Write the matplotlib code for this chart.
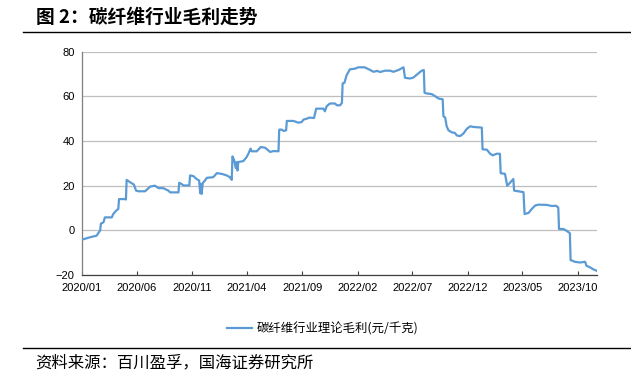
import numpy as np
import matplotlib
matplotlib.use("Agg")
import matplotlib.pyplot as plt
from matplotlib.lines import Line2D

# ---- data (days since 2020-01-01, gross profit 元/千克) ----
day_offsets = [0, 23, 41, 46, 51, 53, 60, 64, 83, 87, 95, 101, 103, 120, 122, 124, 133, 144, 150,
               156, 175, 189, 202, 212, 225, 239, 244, 267, 269, 276, 281, 297, 299, 308, 317, 324,
               327, 329, 331, 334, 340, 345, 363, 373, 386, 400, 409, 414, 416, 421, 425, 428, 430,
               432, 446, 455, 460, 466, 469, 483, 494, 506, 515, 520, 529, 543, 545, 552, 557, 564,
               566, 584, 598, 607, 612, 621, 628, 641, 647, 667, 671, 676, 685, 699, 704, 713, 718,
               720, 725, 731, 740, 754, 763, 781, 796, 805, 816, 823, 837, 851, 860, 874, 888, 892,
               906, 915, 929, 938, 944, 946, 952, 966, 975, 985, 996, 998, 1003, 1007, 1012, 1021,
               1030, 1035, 1044, 1053, 1063, 1072, 1081, 1104, 1106, 1118, 1127, 1134, 1145, 1154,
               1156, 1168, 1174, 1183, 1191, 1193, 1205, 1219, 1222, 1233, 1242, 1251, 1260, 1283,
               1297, 1309, 1315, 1317, 1329, 1338, 1347, 1349, 1361, 1375, 1389, 1393, 1403, 1412,
               1421]
margin = [-4.2, -3.1, -2.4, -1.2, 0.0, 3.0, 3.6, 5.8, 5.8, 7.3, 8.8, 9.6, 14.0, 14.0, 13.8, 22.6,
          21.6, 20.5, 17.8, 17.5, 17.5, 19.6, 20.0, 18.9, 18.9, 17.8, 17.0, 17.0, 21.3, 20.7, 20.1,
          20.1, 24.6, 24.3, 23.0, 22.3, 16.6, 20.8, 16.3, 21.2, 22.3, 23.5, 23.8, 25.6, 25.3, 24.6,
          23.8, 22.6, 33.1, 31.3, 27.9, 30.6, 26.8, 30.6, 31.0, 32.8, 34.3, 36.6, 35.4, 35.4, 37.3,
          37.0, 35.8, 35.1, 35.5, 35.4, 45.1, 45.1, 44.5, 44.8, 49.0, 49.0, 48.2, 48.5, 49.6, 50.0,
          50.5, 50.3, 54.5, 54.5, 53.3, 55.6, 56.8, 56.8, 56.0, 56.0, 57.1, 65.8, 66.1, 69.5, 72.1,
          72.4, 73.0, 73.0, 71.8, 71.0, 71.4, 70.9, 71.5, 71.5, 71.0, 71.8, 73.0, 68.3, 68.0, 68.4,
          70.3, 71.5, 71.8, 61.6, 61.3, 61.0, 60.1, 59.0, 58.7, 51.1, 50.5, 46.6, 44.8, 43.9, 43.6,
          42.5, 42.2, 43.3, 45.5, 46.6, 46.3, 46.0, 36.3, 36.1, 34.3, 33.6, 34.3, 34.3, 25.6, 25.3,
          20.0, 21.5, 23.0, 17.8, 17.5, 17.1, 7.3, 7.8, 9.6, 11.1, 11.5, 11.4, 10.9, 11.0, 10.2,
          0.6, 0.6, -0.2, -1.3, -13.3, -14.1, -14.4, -14.1, -15.9, -16.6, -17.5, -18.1]
tick_dates = ['2020-01-01', '2020-06-01', '2020-11-01', '2021-04-01', '2021-09-01',
              '2022-02-01', '2022-07-01', '2022-12-01', '2023-05-01', '2023-10-01']
tick_labels = ['2020/01', '2020/06', '2020/11', '2021/04', '2021/09',
               '2022/02', '2022/07', '2022/12', '2023/05', '2023/10']
series_name = '碳纤维行业理论毛利(元/千克)'
title = '图 2：碳纤维行业毛利走势'
source = '资料来源：百川盈孚，国海证券研究所'

base = np.datetime64('2020-01-01')
dates = base + np.array(day_offsets).astype('timedelta64[D]')
ticks = np.array(tick_dates, dtype='datetime64[D]')

cjk = ['Noto Sans CJK SC', 'DejaVu Sans']
lat = ['Liberation Sans', 'Noto Sans CJK SC']

W, H = 631, 376
fig = plt.figure(figsize=(W / 100, H / 100), dpi=100)
ax = fig.add_axes([81.7 / W, 1 - 275 / H, (596.7 - 81.7) / W, (275 - 51.7) / H])

blue = '#5B9BD5'
ax.plot(dates, margin, color=blue, lw=1.6, solid_joinstyle='round', zorder=3)

ax.set_ylim(-20, 80)
ax.set_yticks(np.arange(-20, 81, 20))
ax.set_xlim(dates[0], dates[-1])
ax.set_xticks(ticks)
ax.set_xticklabels(tick_labels)
ax.grid(axis='y', color='#BFBFBF', lw=0.9, zorder=0)
ax.set_axisbelow(True)
for s in ['top', 'right']:
    ax.spines[s].set_visible(False)
ax.spines['left'].set_color('#7F7F7F')
ax.spines['bottom'].set_color('#404040')
ax.spines['left'].set_linewidth(0.9)
ax.spines['bottom'].set_linewidth(0.9)
ax.tick_params(axis='y', length=0, pad=5, labelsize=8)
ax.tick_params(axis='x', direction='in', length=3, width=0.8, color='#404040', pad=5.5, labelsize=8)
for lab in ax.get_xticklabels() + ax.get_yticklabels():
    lab.set_family(lat)

# legend
h = Line2D([], [], color=blue, lw=1.6)
fig.legend([h], [series_name], loc='center left', bbox_to_anchor=(227 / W, 1 - 329 / H),
           frameon=False, prop={'family': cjk, 'size': 8.9}, handlelength=2.0,
           handletextpad=0.4, borderpad=0, borderaxespad=0)

# title & source
fig.text(36 / W, 1 - 17 / H, title, fontsize=13.5, fontweight='bold', family=cjk, va='center', ha='left')
fig.add_artist(Line2D([23 / W, 1.0], [1 - 32 / H, 1 - 32 / H], color='black', lw=1.0))
fig.add_artist(Line2D([23 / W, 1.0], [1 - 348 / H, 1 - 348 / H], color='black', lw=1.0))
fig.text(35 / W, 1 - 363 / H, source, fontsize=11.8, family=cjk, va='center', ha='left')

fig.savefig('out.png', dpi=100, facecolor='white')
